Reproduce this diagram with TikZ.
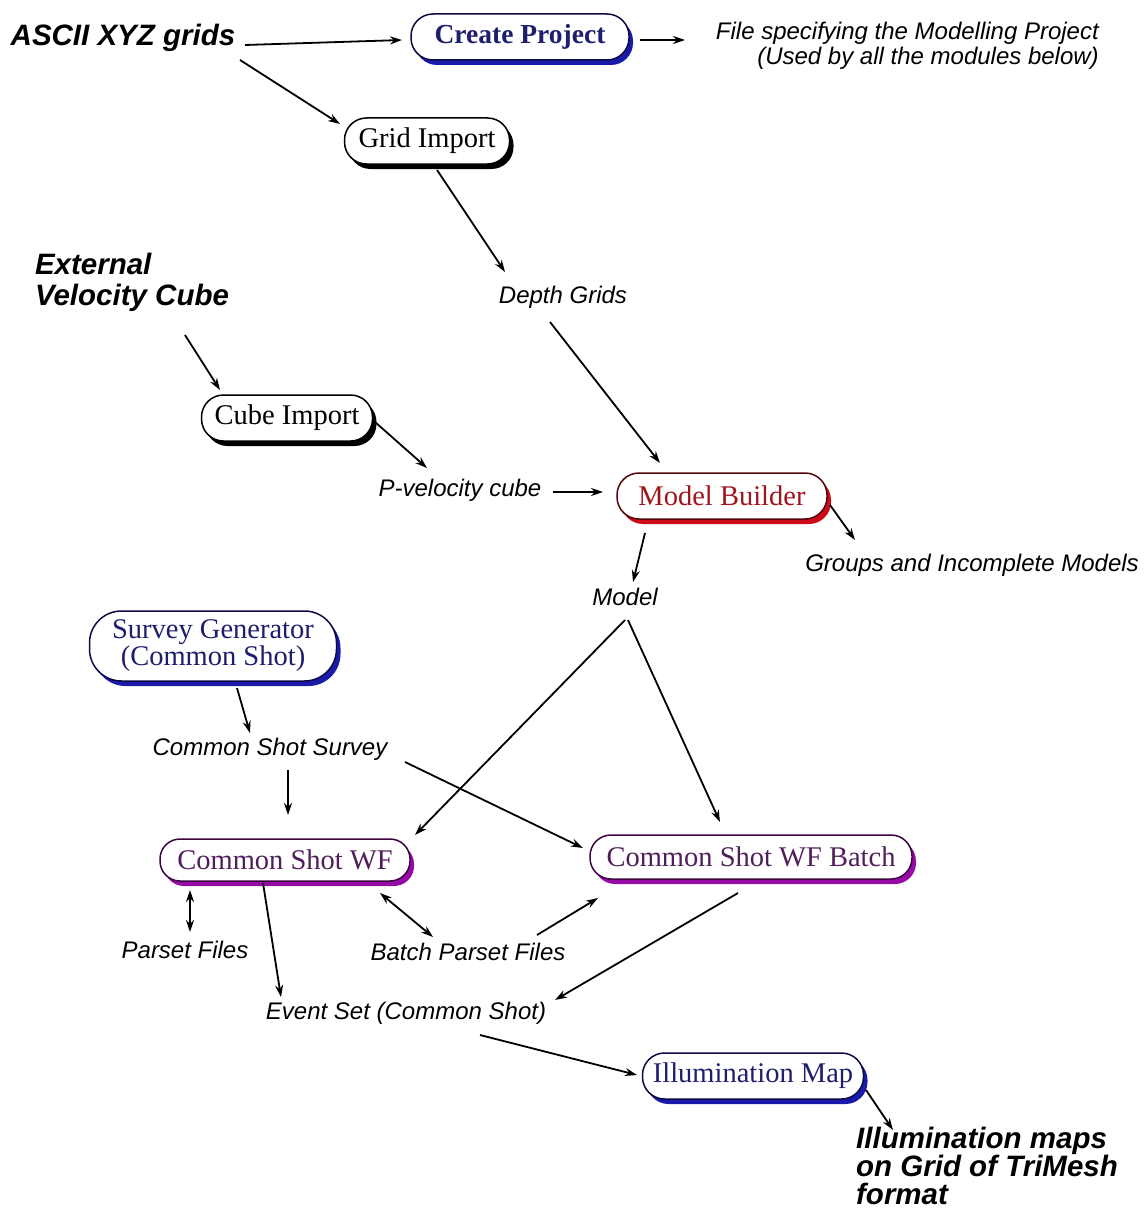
\documentclass[tikz,border=0pt]{standalone}
\usepackage{fontspec}
\setmainfont{Liberation Serif}
\newfontfamily\labfont{Liberation Sans}
\usetikzlibrary{arrows.meta,shadows}
\definecolor{cpblue}{RGB}{25,25,170}
\definecolor{cptext}{RGB}{30,30,110}
\definecolor{mbred}{RGB}{205,10,25}
\definecolor{mbtext}{RGB}{160,20,30}
\definecolor{pur}{RGB}{150,10,165}
\definecolor{purtext}{RGB}{80,30,90}
\tikzset{
  proc/.style={draw=#1!40!black, line width=1.5pt, fill=white, rounded corners=22pt,
    minimum height=46pt, inner xsep=10pt, inner ysep=2pt,
    font=\fontsize{28.5}{27}\selectfont,
    drop shadow={shadow xshift=4pt, shadow yshift=-5pt, fill=#1, opacity=1}},
  lbl/.style={font=\labfont\itshape\fontsize{24}{25}\selectfont, inner sep=1pt},
  big/.style={font=\labfont\bfseries\itshape\fontsize{29.5}{31}\selectfont, inner sep=1pt},
  arr/.style={line width=1.8pt, -{Stealth[length=12pt,width=8pt]}},
  darr/.style={line width=1.8pt, {Stealth[length=12pt,width=8pt]}-{Stealth[length=12pt,width=8pt]}},
}
\begin{document}
\begin{tikzpicture}[x=1pt,y=-1pt]
\useasboundingbox (0,0) rectangle (1147,1212);
% nodes
\node[big] (ascii) at (123,38) {ASCII XYZ grids};
\node[proc=cpblue, text=cptext, minimum width=218pt] (cp) at (520,37) {\fontsize{27.5}{27}\selectfont\bfseries Create Project};
\coordinate (cpo) at (685,40);
\node[lbl, align=right, anchor=east] (file) at (1100,46) {File specifying the Modelling Project\\(Used by all the modules below)};
\node[proc=black, minimum width=165pt] (grid) at (427,141) {Grid Import};
\node[lbl] (depth) at (563,297) {Depth Grids};
\node[big, align=left] (ext) at (132,282) {External\\Velocity Cube};
\node[proc=black, minimum width=171pt] (cube) at (287,418) {Cube Import};
\node[lbl] (pvel) at (460,490) {P-velocity cube};
\node[proc=mbred, text=mbtext, minimum width=210pt] (mb) at (722,496) {Model Builder};
\node[lbl] (groups) at (972,565) {Groups and Incomplete Models};
\node[lbl] (model) at (625,597) {Model};
\node[proc=cpblue, text=cptext, minimum width=247pt, minimum height=70pt, rounded corners=32pt, align=center] (sg) at (213,646) {Survey Generator\\(Common Shot)};
\node[lbl] (css) at (270,749) {Common Shot Survey};
\node[proc=pur, text=purtext, minimum width=250pt, minimum height=42pt, rounded corners=20pt] (csw) at (285,860) {Common Shot WF};
\node[proc=pur, text=purtext, minimum width=322pt, minimum height=44pt, rounded corners=21pt] (csb) at (751,857) {Common Shot WF Batch};
\node[lbl] (parset) at (185,950) {Parset Files};
\node[lbl] (bparset) at (468,952) {Batch Parset Files};
\node[lbl] (event) at (406,1013) {Event Set (Common Shot)};
\node[proc=cpblue, text=cptext, minimum width=221pt] (ill) at (753,1076) {Illumination Map};
\node[big, align=left, font=\labfont\bfseries\itshape\fontsize{29.5}{28}\selectfont] (ilm) at (987,1166) {Illumination maps\\on Grid of TriMesh\\format};
% connectors
\draw[arr] ([shift={(122,7)}]ascii.center) -- ([shift={(-118,3)}]cp.center);
\draw[arr] ([shift={(120,3)}]cp.center) -- (cpo);
\draw[arr] ([shift={(117,22)}]ascii.center) -- ([shift={(-87,-17)}]grid.center);
\draw[arr] ([shift={(10,29)}]grid.center) -- ([shift={(-58,-25)}]depth.center);
\draw[arr] ([shift={(-13,25)}]depth.center) -- ([shift={(-62,-33)}]mb.center);
\draw[arr] ([shift={(53,53)}]ext.center) -- ([shift={(-67,-28)}]cube.center);
\draw[arr] ([shift={(88,4)}]cube.center) -- ([shift={(-33,-22)}]pvel.center);
\draw[arr] ([shift={(93,2)}]pvel.center) -- ([shift={(-119,-4)}]mb.center);
\draw[arr] ([shift={(108,9)}]mb.center) -- ([shift={(-117,-25)}]groups.center);
\draw[arr] ([shift={(-77,37)}]mb.center) -- ([shift={(8,-15)}]model.center);
\draw[arr] ([shift={(0,23)}]model.center) -- ([shift={(130,-25)}]csw.center);
\draw[arr] ([shift={(3,23)}]model.center) -- ([shift={(-31,-35)}]csb.center);
\draw[arr] ([shift={(24,42)}]sg.center) -- ([shift={(-20,-16)}]css.center);
\draw[arr] ([shift={(18,21)}]css.center) -- ([shift={(3,-45)}]csw.center);
\draw[arr] ([shift={(135,13)}]css.center) -- ([shift={(-168,-9)}]csb.center);
\draw[darr] ([shift={(-95,30)}]csw.center) -- ([shift={(5,-18)}]parset.center);
\draw[darr] ([shift={(95,33)}]csw.center) -- ([shift={(-35,-15)}]bparset.center);
\draw[arr] ([shift={(69,-17)}]bparset.center) -- ([shift={(-153,41)}]csb.center);
\draw[arr] ([shift={(-22,23)}]csw.center) -- ([shift={(-125,-16)}]event.center);
\draw[arr] ([shift={(-13,36)}]csb.center) -- ([shift={(149,-13)}]event.center);
\draw[arr] ([shift={(74,22)}]event.center) -- ([shift={(-116,-1)}]ill.center);
\draw[arr] ([shift={(113,14)}]ill.center) -- ([shift={(-94,-36)}]ilm.center);
\end{tikzpicture}
\end{document}
